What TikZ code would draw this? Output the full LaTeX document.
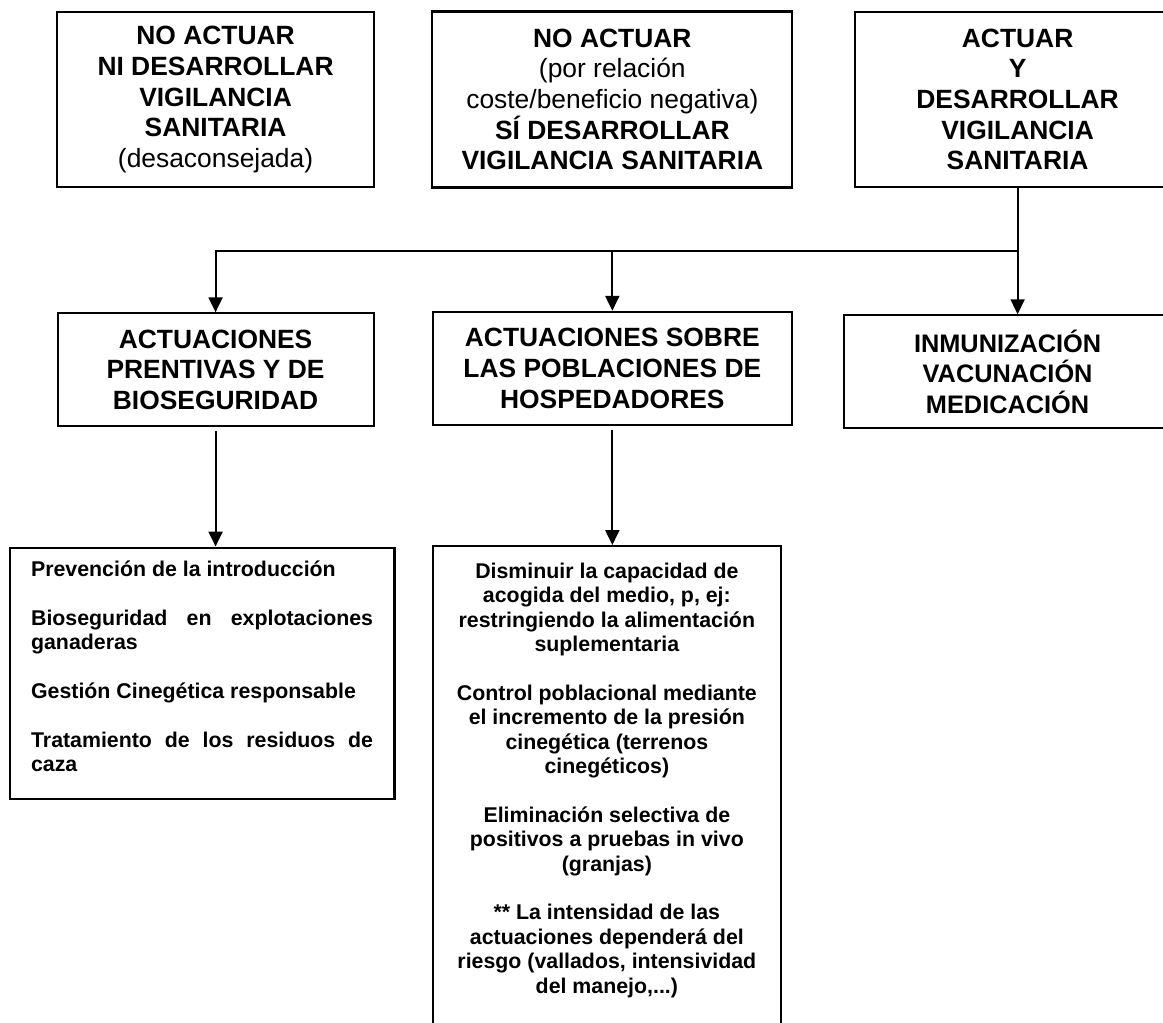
\documentclass[tikz,border=0pt]{standalone}
\usepackage{fontspec}
\setmainfont{Liberation Sans}
\usepackage{tikz}
\usetikzlibrary{positioning,arrows.meta,calc}

\begin{document}
\begin{tikzpicture}[
    node distance=1cm and 1cm,
    decision/.style={rectangle,draw,line width=1.6pt,align=center,inner sep=0pt,font=\fontsize{19.8}{23}\selectfont\bfseries},
    action/.style={rectangle,draw,line width=1.6pt,align=center,inner sep=0pt,minimum height=84.75pt,font=\fontsize{19.8}{23}\selectfont\bfseries},
    measures/.style={rectangle,draw,line width=1.6pt,font=\fontsize{16}{18.3}\selectfont\bfseries},
    flow/.style={-{Triangle[length=11.25pt,width=10.5pt]},line width=1.6pt}
]
\useasboundingbox (0,0) rectangle (872.25pt,-767.25pt);

% Decisions
\node[decision,minimum width=237.75pt,minimum height=131.25pt,anchor=north west] (noact) at (42pt,-8.25pt) {NO ACTUAR\\NI DESARROLLAR\\VIGILANCIA\\SANITARIA\\{\mdseries (desaconsejada)}};
\node[decision,minimum width=270pt,minimum height=132pt,right=42.1pt of noact] (vigil) {NO ACTUAR\\{\mdseries (por relación}\\{\mdseries coste/beneficio negativa)}\\SÍ DESARROLLAR\\VIGILANCIA SANITARIA};
\node[decision,minimum width=244.5pt,minimum height=131.25pt,right=45.1pt of vigil] (act) {ACTUAR\\Y\\DESARROLLAR\\VIGILANCIA\\SANITARIA};

% Actions
\node[action,minimum width=237pt,below=93.1pt of noact] (prev) {ACTUACIONES\\PRENTIVAS Y DE\\BIOSEGURIDAD};
\node[action,minimum width=269.25pt,below=91.6pt of vigil] (host) {ACTUACIONES SOBRE\\LAS POBLACIONES DE\\HOSPEDADORES};
\node[action,minimum width=246pt,below=94.6pt of act,xshift=-7.5pt,font=\fontsize{19}{23}\selectfont\bfseries] (immun) {INMUNIZACIÓN\\VACUNACIÓN\\MEDICACIÓN};

% Measures
\node[measures,align=justify,text width=256.5pt,inner xsep=16pt,minimum height=188.25pt,below=89.35pt of prev,xshift=-10.1pt] (prevlist) {Prevención de la introducción\\[18.3pt]Bioseguridad en explotaciones ganaderas\\[18.3pt]Gestión Cinegética responsable\\[18.3pt]Tratamiento de los residuos de caza\rule[-10.5pt]{0pt}{10.5pt}};
\node[measures,align=center,minimum width=261pt,inner xsep=0pt,inner ysep=12.6pt,below=89.35pt of host,xshift=-4.1pt] (hostlist) {Disminuir la capacidad de\\acogida del medio, p, ej:\\restringiendo la alimentación\\suplementaria\\[18.3pt]Control poblacional mediante\\el incremento de la presión\\cinegética (terrenos\\cinegéticos)\\[18.3pt]Eliminación selectiva de\\positivos a pruebas in vivo\\(granjas)\\[18.3pt]** La intensidad de las\\actuaciones dependerá del\\riesgo (vallados, intensividad\\del manejo,...)\\[30pt]\mbox{}};

% Flow
\draw[flow] (act.south) -- (act.south |- immun.north);
\coordinate (split) at ($(act.south)!0.5!(act.south |- immun.north)$);
\draw[flow] (split) -| (prev.north);
\draw[flow] (split -| host.north) -- (host.north);
\draw[flow,shorten <=3pt] (prev.south) -- (prev.south |- prevlist.north);
\draw[flow,shorten <=3pt] (host.south) -- (host.south |- hostlist.north);

\end{tikzpicture}
\end{document}
